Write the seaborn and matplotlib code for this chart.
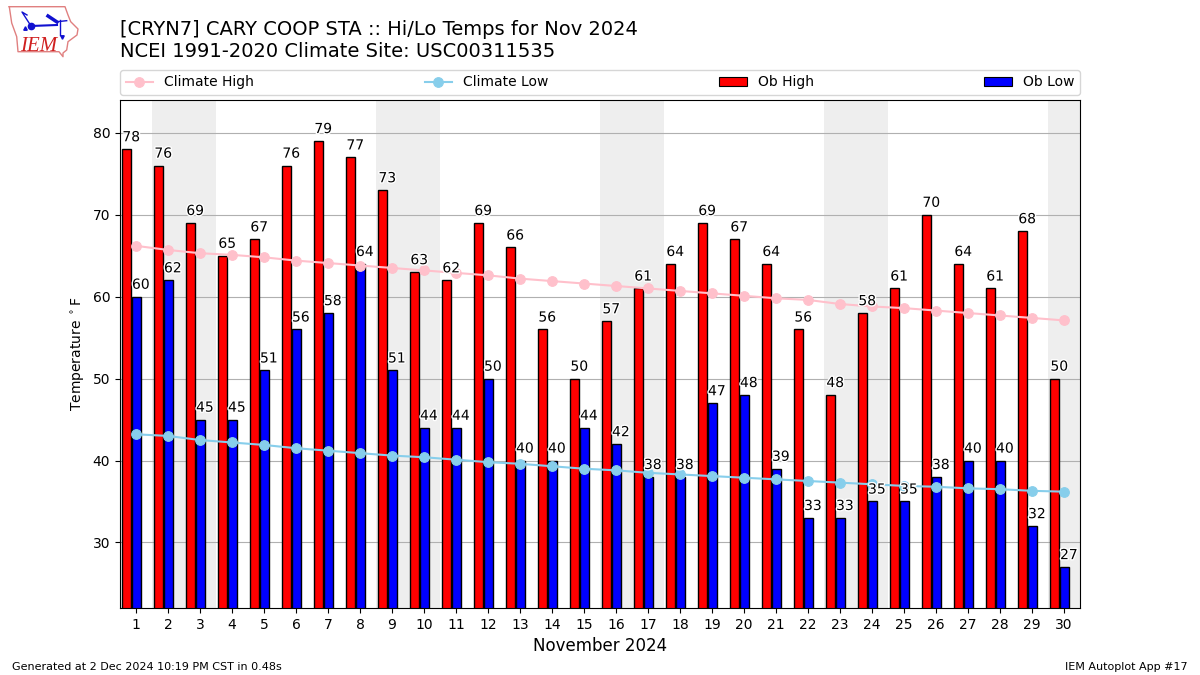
import numpy as np
import pandas as pd
import matplotlib
matplotlib.use("Agg")
import matplotlib.pyplot as plt
import matplotlib.patheffects as pe
import seaborn as sns

days = list(range(1, 31))
ob_high = [78, 76, 69, 65, 67, 76, 79, 77, 73, 63, 62, 69, 66, 56, 50,
           57, 61, 64, 69, 67, 64, 56, 48, 58, 61, 70, 64, 61, 68, 50]
ob_low = [60, 62, 45, 45, 51, 56, 58, 64, 51, 44, 44, 50, 40, 40, 44,
          42, 38, 38, 47, 48, 39, 33, 33, 35, 35, 38, 40, 40, 32, 27]
climate_high = [66.2, 65.7, 65.3, 65.1, 64.8, 64.4, 64.1, 63.8, 63.5, 63.2,
                62.9, 62.6, 62.2, 61.9, 61.6, 61.3, 61.0, 60.7, 60.4, 60.1,
                59.8, 59.6, 59.1, 58.8, 58.6, 58.3, 58.0, 57.7, 57.4, 57.1]
climate_low = [43.2, 43.0, 42.5, 42.2, 41.9, 41.5, 41.2, 40.9, 40.6, 40.4,
               40.1, 39.8, 39.6, 39.3, 39.0, 38.8, 38.5, 38.3, 38.1, 37.9,
               37.7, 37.5, 37.3, 37.1, 36.9, 36.8, 36.6, 36.5, 36.3, 36.2]
weekend_spans = [(1.5, 3.5), (8.5, 10.5), (15.5, 17.5), (22.5, 24.5), (29.5, 30.5)]

df = pd.DataFrame({"day": days, "high": ob_high, "low": ob_low,
                   "clim_high": climate_high, "clim_low": climate_low})

fig = plt.figure(figsize=(12, 6.75), dpi=100)
ax = fig.add_axes([0.1, 1 - 608 / 675, 0.8, 508 / 675])

for start, end in weekend_spans:
    ax.axvspan(start, end, color="#eeeeee", zorder=0, lw=0)

# bars sit left of / on the day tick
sns.barplot(x=df["day"] - 0.295, y=df["high"], native_scale=True, width=0.28, color="red",
            saturation=1, edgecolor="black", linewidth=1, zorder=2, ax=ax)
sns.barplot(x=df["day"] + 0.01, y=df["low"], native_scale=True, width=0.3, color="blue",
            saturation=1, edgecolor="black", linewidth=1, zorder=2, ax=ax)

sns.lineplot(data=df, x="day", y="clim_high", color="pink", marker="o", markersize=7,
             markeredgecolor="pink", linewidth=1.5, zorder=3, label="Climate High", ax=ax)
sns.lineplot(data=df, x="day", y="clim_low", color="skyblue", marker="o", markersize=7,
             markeredgecolor="skyblue", linewidth=1.5, zorder=3, label="Climate Low", ax=ax)

halo = [pe.withStroke(linewidth=2, foreground="white")]
for day, hi, lo in zip(days, ob_high, ob_low):
    ax.text(day - 0.15, hi + 0.6, str(hi), ha="center", va="bottom", fontsize=10,
            path_effects=halo, zorder=4)
    ax.text(day + 0.15, lo + 0.6, str(lo), ha="center", va="bottom", fontsize=10,
            path_effects=halo, zorder=4)

ax.set_xlim(0.5, 30.5)
ax.set_ylim(22, 84)
ax.set_xticks(days)
ax.set_xticklabels([str(d) for d in days])
ax.set_yticks([30, 40, 50, 60, 70, 80])
ax.grid(True, axis="y", color="#b0b0b0", linewidth=0.8, zorder=1)
ax.set_axisbelow(True)
ax.set_xlabel("November 2024", fontsize=12)
ax.set_ylabel(r"Temperature $^\circ$F", fontsize=10)

handles = ax.get_legend_handles_labels()[0][:2] + [
    plt.Rectangle((0, 0), 1, 1, fc="red", ec="black", lw=0.8),
    plt.Rectangle((0, 0), 1, 1, fc="blue", ec="black", lw=0.8),
]
ax.legend(handles, ["Climate High", "Climate Low", "Ob High", "Ob Low"], ncol=4,
          mode="expand", loc="lower left", bbox_to_anchor=(0, 1.01, 1, 0.05),
          borderaxespad=0, fontsize=10)

fig.text(0.1, 1 - 35 / 675, "[CRYN7] CARY COOP STA :: Hi/Lo Temps for Nov 2024",
         fontsize=14, va="baseline")
fig.text(0.1, 1 - 57 / 675, "NCEI 1991-2020 Climate Site: USC00311535",
         fontsize=14, va="baseline")
fig.text(12 / 1200, 1 - 670 / 675, "Generated at 2 Dec 2024 10:19 PM CST in 0.48s", fontsize=8)
fig.text(1188 / 1200, 1 - 670 / 675, "IEM Autoplot App #17", fontsize=8, ha="right")

# rough IEM logo, in pixel coords of the figure
logo = fig.add_axes([0, 1 - 60 / 675, 85 / 1200, 60 / 675])
logo.set_xlim(0, 85)
logo.set_ylim(60, 0)
logo.axis("off")
iowa_x = [9.3, 65, 68, 70.7, 78, 77, 68, 66.7, 63, 63, 59, 18, 16.7, 11.7, 9.3]
iowa_y = [6.7, 6.7, 15, 21.7, 29, 35, 41.7, 50, 53, 56.7, 51.7, 51.7, 36.7, 23, 6.7]
logo.plot(iowa_x, iowa_y, color="#e08080", lw=1)
barb = "#1010d0"
logo.plot([31, 57], [26, 25], color=barb, lw=1.5)
logo.plot([31], [26], "o", color=barb, ms=4.5)
logo.plot([31, 22, 27], [26, 12, 15], color=barb, lw=1)
logo.plot([48, 57], [16, 22], color=barb, lw=2.5)
logo.plot([57, 66.7], [21.7, 20.7], color=barb, lw=1)
logo.plot([60, 60], [20, 35], color=barb, lw=1)
logo.plot([62], [37], "v", color=barb, ms=2.5)
logo.plot([25], [28], "^", color=barb, ms=2.5)
logo.text(20, 51, "IEM", color="#d02020", fontsize=15, family="Liberation Serif",
          style="italic", va="baseline")

fig.savefig("out.png", dpi=100)
